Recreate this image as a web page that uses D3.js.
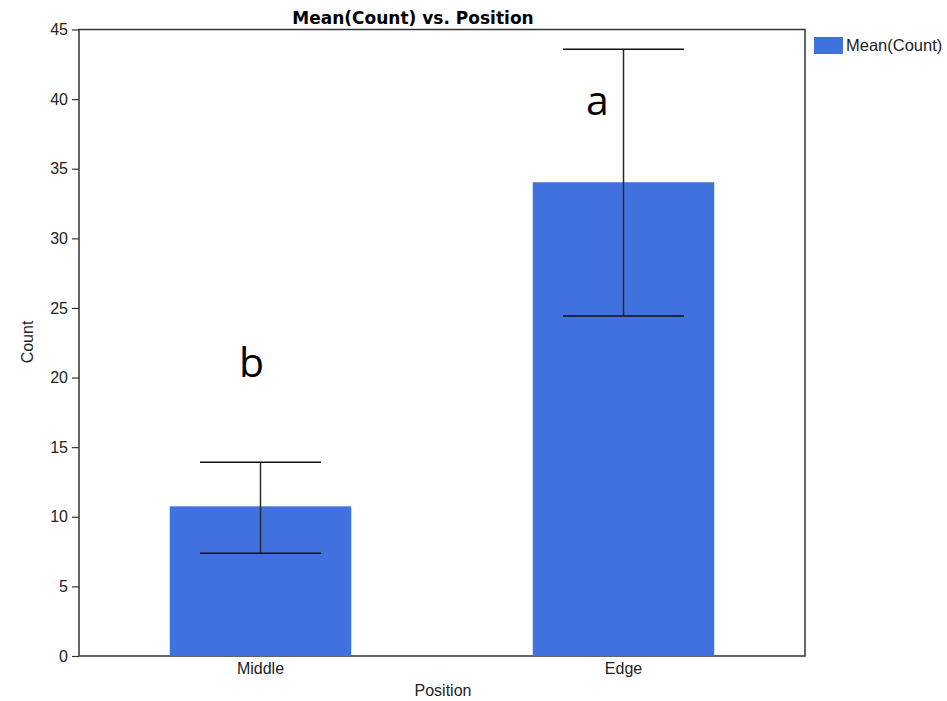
<!DOCTYPE html>
<html>
<head>
<meta charset="utf-8">
<script src="https://cdn.jsdelivr.net/npm/d3@7"></script>
<style>
  body { margin: 0; background: #fff; }
  svg { display: block; }
  text { font-family: "Liberation Sans", Arial, sans-serif; }
</style>
</head>
<body>
<svg id="chart" width="947" height="701"></svg>
<script>
// Mean count per position with error bounds and significance letters
const categories = ["Middle", "Edge"];
const means = [10.75, 34.03];
const errLow = [7.38, 24.42];
const errHigh = [13.91, 43.58];
const letters = ["b", "a"];
const letterValues = [20.06, 38.86];
const yTicks = [0, 5, 10, 15, 20, 25, 30, 35, 40, 45];

const margin = { left: 79, top: 29.5, right: 142, bottom: 45 };
const W = 947, H = 701;
const svg = d3.select("#chart");

const x = d3.scaleBand()
  .domain(categories)
  .range([margin.left, W - margin.right])
  .paddingInner(0.5)
  .paddingOuter(0.25);

const y = d3.scaleLinear()
  .domain([0, 45])
  .range([H - margin.bottom, margin.top]);

const barColor = "#4171df";

// Plot frame
svg.append("rect")
  .attr("x", margin.left).attr("y", margin.top)
  .attr("width", W - margin.right - margin.left)
  .attr("height", H - margin.bottom - margin.top)
  .attr("fill", "none").attr("stroke", "#333").attr("stroke-width", 1.5);

// Bars
svg.selectAll("rect.bar").data(categories).enter().append("rect")
  .attr("class", "bar")
  .attr("x", d => x(d))
  .attr("width", x.bandwidth())
  .attr("y", (d, i) => y(means[i]))
  .attr("height", (d, i) => y(0) - y(means[i]))
  .attr("fill", barColor);

// Error bars
const capHalf = x.bandwidth() / 3;
const cx = d => x(d) + x.bandwidth() / 2;
const eb = svg.selectAll("g.err").data(categories).enter().append("g").attr("class", "err");
eb.append("line")
  .attr("x1", cx).attr("x2", cx)
  .attr("y1", (d, i) => y(errLow[i])).attr("y2", (d, i) => y(errHigh[i]))
  .attr("stroke", "#2a2a2a").attr("stroke-width", 1.5);
eb.append("line")
  .attr("x1", d => cx(d) - capHalf).attr("x2", d => cx(d) + capHalf)
  .attr("y1", (d, i) => y(errHigh[i])).attr("y2", (d, i) => y(errHigh[i]))
  .attr("stroke", "#111").attr("stroke-width", 1.5);
eb.append("line")
  .attr("x1", d => cx(d) - capHalf).attr("x2", d => cx(d) + capHalf)
  .attr("y1", (d, i) => y(errLow[i])).attr("y2", (d, i) => y(errLow[i]))
  .attr("stroke", "#111").attr("stroke-width", 1.5);

// Significance letters
svg.selectAll("text.letter").data(categories).enter().append("text")
  .attr("class", "letter")
  .attr("x", (d, i) => cx(d) + (i === 0 ? -9 : -26))
  .attr("y", (d, i) => y(letterValues[i]))
  .attr("text-anchor", "middle")
  .style("font-family", "'Open Sans', 'Noto Sans', sans-serif")
  .style("font-size", "41px")
  .attr("fill", "#000")
  .text((d, i) => letters[i]);

// Y axis
const yAxis = svg.append("g")
  .attr("transform", `translate(${margin.left},0)`)
  .call(d3.axisLeft(y).tickValues(yTicks).tickSize(7).tickPadding(4));
yAxis.select(".domain").remove();
yAxis.selectAll("line").attr("stroke", "#333").attr("stroke-width", 1.2);
yAxis.selectAll("text").style("font-size", "16px").attr("fill", "#222");

// X axis
const xAxis = svg.append("g")
  .attr("transform", `translate(0,${H - margin.bottom})`)
  .call(d3.axisBottom(x).tickSize(0).tickPadding(7));
xAxis.select(".domain").remove();
xAxis.selectAll("text").style("font-size", "16px").attr("fill", "#222");

// Axis titles
svg.append("text")
  .attr("x", 443).attr("y", 696)
  .attr("text-anchor", "middle").style("font-size", "16px").attr("fill", "#222")
  .text("Position");
svg.append("text")
  .attr("transform", `translate(33,342) rotate(-90)`)
  .attr("text-anchor", "middle").style("font-size", "16px").attr("fill", "#222")
  .text("Count");

// Title
svg.append("text")
  .attr("x", 413).attr("y", 24)
  .attr("text-anchor", "middle")
  .style("font-family", "'DejaVu Sans', sans-serif")
  .style("font-size", "17px").style("font-weight", "bold")
  .attr("fill", "#000")
  .text("Mean(Count) vs. Position");

// Legend
const legend = svg.append("g").attr("transform", "translate(814,37)");
legend.append("rect").attr("width", 29).attr("height", 17).attr("fill", barColor);
legend.append("text").attr("x", 32).attr("y", 14)
  .style("font-size", "16.5px").attr("fill", "#222").text("Mean(Count)");
</script>
</body>
</html>
